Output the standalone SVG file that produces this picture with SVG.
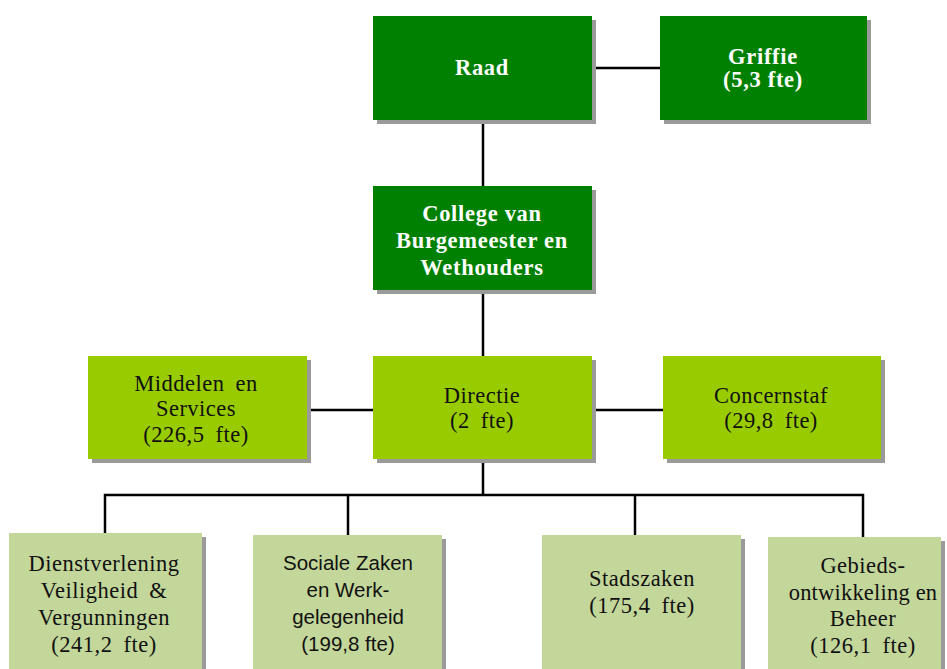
<svg xmlns="http://www.w3.org/2000/svg" width="947" height="669" viewBox="0 0 947 669">
<defs>
<style>
.sh{fill:#9a9a9a}
.dk{fill:#008000}
.lt{fill:#99cc00}
.pl{fill:#c4d79b}
.tw{font-family:"Liberation Serif","Times New Roman",serif;font-weight:bold;font-size:22.5px;fill:#fff;text-anchor:middle;letter-spacing:0.7px}
.tb{font-family:"Liberation Serif","Times New Roman",serif;font-size:22.5px;fill:#111;text-anchor:middle;letter-spacing:0.5px;word-spacing:5px}
.ts{font-family:"Liberation Sans",sans-serif;font-size:20.5px;fill:#111;text-anchor:middle}
.ln{stroke:#000;stroke-width:2.5;fill:none}
</style>
</defs>
<rect width="947" height="669" fill="#fff"/>
<g id="connectors">
<line class="ln" x1="592" y1="68" x2="660" y2="68"/>
<line class="ln" x1="483" y1="120" x2="483" y2="186"/>
<line class="ln" x1="483" y1="290" x2="483" y2="356"/>
<line class="ln" x1="307" y1="410" x2="373" y2="410"/>
<line class="ln" x1="592" y1="410" x2="663" y2="410"/>
<line class="ln" x1="483" y1="459" x2="483" y2="495"/>
<polyline class="ln" points="105,533 105,495 863,495 863,537"/>
<line class="ln" x1="348" y1="495" x2="348" y2="535"/>
<line class="ln" x1="635" y1="495" x2="635" y2="535"/>
</g>
<g id="raad">
<rect class="sh" x="377" y="20" width="219" height="104"/>
<rect class="dk" x="373" y="16" width="219" height="104"/>
<text class="tw" x="482" y="75">Raad</text>
</g>
<g id="griffie">
<rect class="sh" x="664" y="20" width="207" height="104"/>
<rect class="dk" x="660" y="16" width="207" height="104"/>
<text class="tw" x="763" y="64">Griffie</text>
<text class="tw" x="763" y="87">(5,3 fte)</text>
</g>
<g id="college">
<rect class="sh" x="377" y="190" width="219" height="104"/>
<rect class="dk" x="373" y="186" width="219" height="104"/>
<text class="tw" x="482" y="221">College van</text>
<text class="tw" x="482" y="248">Burgemeester en</text>
<text class="tw" x="482" y="275">Wethouders</text>
</g>
<g id="middelen">
<rect class="sh" x="92" y="360" width="219" height="103"/>
<rect class="lt" x="88" y="356" width="219" height="103"/>
<text class="tb" x="196" y="391">Middelen en</text>
<text class="tb" x="196" y="416">Services</text>
<text class="tb" x="196" y="442">(226,5 fte)</text>
</g>
<g id="directie">
<rect class="sh" x="377" y="360" width="219" height="103"/>
<rect class="lt" x="373" y="356" width="219" height="103"/>
<text class="tb" x="482" y="403">Directie</text>
<text class="tb" x="482" y="428">(2 fte)</text>
</g>
<g id="concernstaf">
<rect class="sh" x="667" y="360" width="218" height="103"/>
<rect class="lt" x="663" y="356" width="218" height="103"/>
<text class="tb" x="771" y="403">Concernstaf</text>
<text class="tb" x="771" y="428">(29,8 fte)</text>
</g>
<g id="dienstverlening">
<rect class="sh" x="13" y="537" width="193" height="140"/>
<rect class="pl" x="9" y="533" width="193" height="140"/>
<text class="tb" x="104" y="571">Dienstverlening</text>
<text class="tb" x="104" y="598">Veiligheid &amp;</text>
<text class="tb" x="104" y="625">Vergunningen</text>
<text class="tb" x="104" y="652">(241,2 fte)</text>
</g>
<g id="sociale">
<rect class="sh" x="257" y="539" width="189" height="140"/>
<rect class="pl" x="253" y="535" width="189" height="140"/>
<text class="ts" x="348" y="570">Sociale Zaken</text>
<text class="ts" x="348" y="597">en Werk-</text>
<text class="ts" x="348" y="624">gelegenheid</text>
<text class="ts" x="348" y="651">(199,8 fte)</text>
</g>
<g id="stadszaken">
<rect class="sh" x="546" y="539" width="199" height="140"/>
<rect class="pl" x="542" y="535" width="199" height="140"/>
<text class="tb" x="642" y="586">Stadszaken</text>
<text class="tb" x="642" y="613">(175,4 fte)</text>
</g>
<g id="gebieds">
<rect class="sh" x="772" y="541" width="173" height="140"/>
<rect class="pl" x="768" y="537" width="173" height="140"/>
<text class="tb" x="863" y="573">Gebieds-</text>
<text class="tb" x="863" y="600" style="word-spacing:0;letter-spacing:0.2px">ontwikkeling en</text>
<text class="tb" x="863" y="626">Beheer</text>
<text class="tb" x="863" y="653">(126,1 fte)</text>
</g>
</svg>
